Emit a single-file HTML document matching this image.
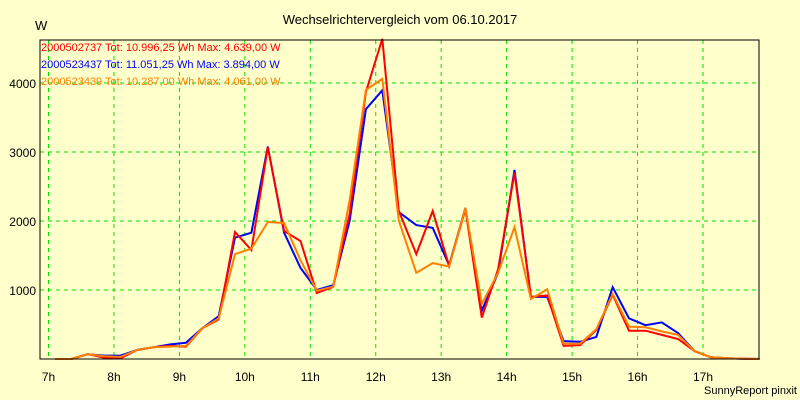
<!DOCTYPE html>
<html><head><meta charset="utf-8"><style>
body{margin:0;background:#ffffcc;}
svg{display:block;font-family:"Liberation Sans",sans-serif;}
</style></head><body>
<svg id="chart" width="800" height="400">
<rect x="0" y="0" width="800" height="400" fill="#ffffcc"/>
<text x="400" y="24" text-anchor="middle" font-size="13" fill="#000">Wechselrichtervergleich vom 06.10.2017</text>
<text x="35" y="30" font-size="13" fill="#000">W</text>
<g id="grid"></g>
<g id="series"></g>
<rect x="40" y="40" width="719" height="319" fill="none" stroke="#000" stroke-width="1"/>
<g id="labels" font-size="12"></g>
<text x="41" y="51" font-size="11" fill="#ff0000">2000502737 Tot: 10.996,25 Wh Max: 4.639,00 W</text>
<text x="41" y="68" font-size="11" fill="#0000ff">2000523437 Tot: 11.051,25 Wh Max: 3.894,00 W</text>
<text x="41" y="85" font-size="11" fill="#ff8000">2000523439 Tot: 10.287,00 Wh Max: 4.061,00 W</text>
<text x="797" y="394" text-anchor="end" font-size="11" fill="#000">SunnyReport pinxit</text>
</svg>
<script>
const times=[7.1,7.35,7.6,7.85,8.1,8.35,8.6,8.85,9.1,9.35,9.6,9.85,10.1,10.35,10.6,10.85,11.1,11.35,11.6,11.85,12.1,12.35,12.62,12.87,13.12,13.37,13.62,13.87,14.12,14.37,14.62,14.87,15.12,15.37,15.62,15.87,16.12,16.37,16.62,16.87,17.12,17.37,17.62,17.87];
const redValues=[0,0,70,20,10,130,170,190,180,445,575,1840,1580,3070,1855,1710,956,1045,2100,3870,4639,2150,1520,2145,1350,2170,600,1300,2700,900,920,190,200,420,930,410,410,350,290,115,25,10,5,0];
const blueValues=[0,0,70,50,50,130,170,210,235,445,620,1760,1830,3080,1830,1320,1000,1070,2000,3620,3894,2130,1940,1900,1360,2190,700,1250,2740,900,900,260,250,320,1040,590,490,530,375,115,25,10,5,0];
const orangeValues=[0,0,70,40,30,130,170,180,190,445,590,1520,1600,1985,1970,1430,990,1050,2300,3900,4061,2010,1250,1390,1340,2190,800,1250,1910,870,1010,220,220,430,940,470,460,400,350,115,25,10,5,0];
const yTicks=[1000,2000,3000,4000];
const xTicks=[7,8,9,10,11,12,13,14,15,16,17];
const NS='http://www.w3.org/2000/svg';
function xs(t){return 48.5+(t-7)*65.45;}
function ys(v){return 359-v*0.069;}
const grid=document.getElementById('grid'),labels=document.getElementById('labels'),series=document.getElementById('series');
function mk(tag,attrs){const e=document.createElementNS(NS,tag);for(const k in attrs)e.setAttribute(k,attrs[k]);return e;}
yTicks.forEach(v=>{
 const l=mk('line',{x1:40,x2:759,y1:ys(v),y2:ys(v),stroke:'#00e000','stroke-dasharray':'4,4'});
 
 
 grid.appendChild(l);
 const t=mk('text',{x:36,y:ys(v)+5,'text-anchor':'end'});t.textContent=v;
 
 
 labels.appendChild(t);
});
xTicks.forEach(h=>{
 const l=mk('line',{x1:xs(h),x2:xs(h),y1:40,y2:359,stroke:'#00e000','stroke-dasharray':'4,4'});
 
 
 grid.appendChild(l);
 const t=mk('text',{x:xs(h),y:381,'text-anchor':'middle'});t.textContent=h+'h';
 
 
 labels.appendChild(t);
});
[[blueValues,'#0000ff','line-2000523437'],[redValues,'#ff0000','line-2000502737'],[orangeValues,'#ff8000','line-2000523439']].forEach(([vals,col,name])=>{
 const p=mk('polyline',{points:vals.map((v,i)=>xs(times[i]).toFixed(1)+','+ys(v).toFixed(1)).join(' '),fill:'none',stroke:col,'stroke-width':2});
 
 
 series.appendChild(p);
});
</script>
</body></html>
